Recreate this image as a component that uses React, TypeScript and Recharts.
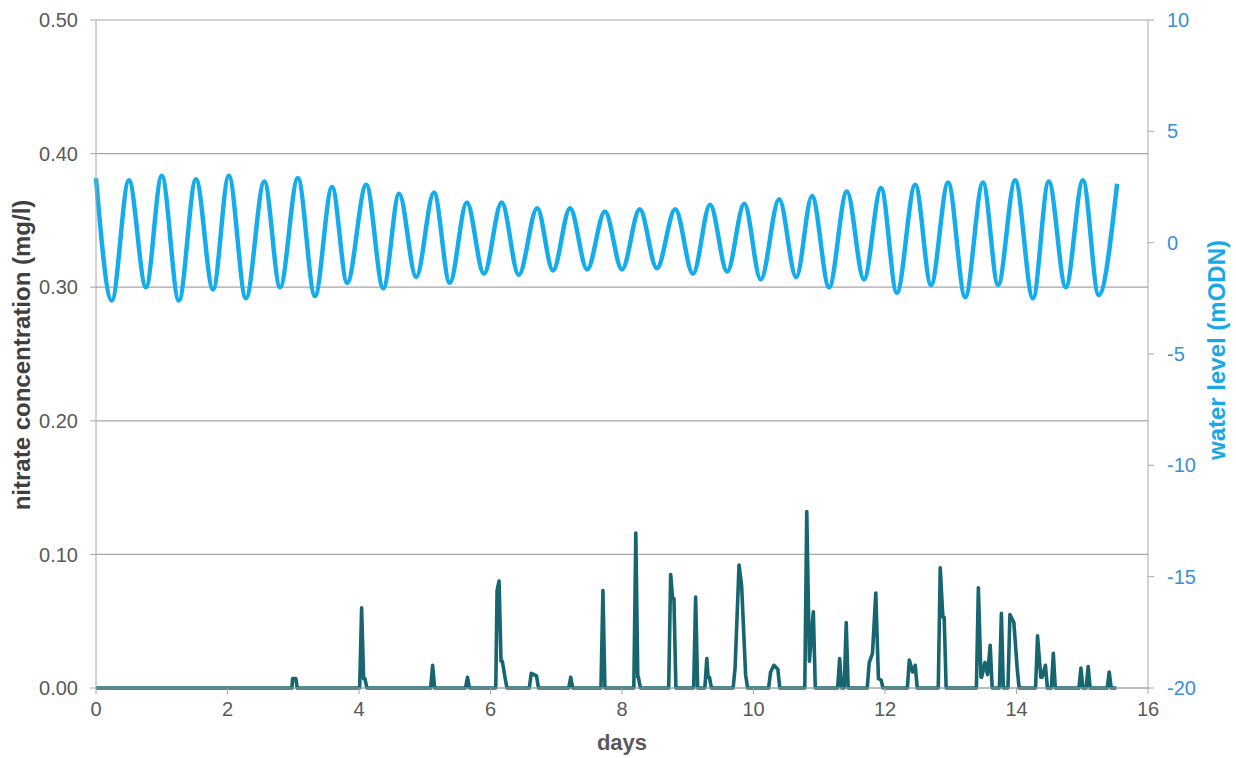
import React from 'react';
import { ComposedChart, Line, XAxis, YAxis, CartesianGrid } from 'recharts';

// water level (mODN): successive high / low water readings
const waterDays = [0.0, 0.24, 0.5, 0.76, 1.0, 1.26, 1.52, 1.78, 2.02, 2.28, 2.56, 2.8, 3.07, 3.33, 3.59, 3.82, 4.11, 4.37, 4.61, 4.87, 5.14, 5.38, 5.64, 5.9, 6.17, 6.43, 6.71, 6.95, 7.21, 7.47, 7.74, 8.0, 8.27, 8.53, 8.81, 9.08, 9.34, 9.6, 9.86, 10.11, 10.39, 10.65, 10.89, 11.15, 11.42, 11.68, 11.94, 12.18, 12.46, 12.7, 12.96, 13.22, 13.49, 13.72, 13.98, 14.25, 14.49, 14.75, 15.01, 15.25, 15.53];
const waterLevels = [2.9, -2.6, 2.8, -2.0, 3.0, -2.6, 2.85, -2.1, 3.0, -2.5, 2.75, -2.0, 2.9, -2.4, 2.5, -1.8, 2.6, -2.05, 2.2, -1.55, 2.25, -1.8, 1.8, -1.4, 1.8, -1.45, 1.55, -1.25, 1.55, -1.2, 1.4, -1.2, 1.5, -1.15, 1.5, -1.4, 1.7, -1.3, 1.75, -1.65, 1.95, -1.55, 2.1, -2.0, 2.3, -1.65, 2.45, -2.25, 2.6, -1.9, 2.7, -2.45, 2.7, -1.9, 2.8, -2.5, 2.75, -2.0, 2.8, -2.35, 2.65];

// nitrate concentration (mg/l)
const nitrateDays = [0, 2.98, 2.99, 3.04, 3.06, 4.01, 4.04, 4.07, 4.09, 4.12, 5.09, 5.12, 5.15, 5.62, 5.65, 5.68, 6.08, 6.1, 6.13, 6.16, 6.18, 6.22, 6.25, 6.59, 6.62, 6.66, 6.7, 6.73, 7.19, 7.22, 7.25, 7.68, 7.71, 7.74, 8.18, 8.21, 8.24, 8.25, 8.28, 8.71, 8.74, 8.77, 8.79, 8.82, 9.09, 9.12, 9.15, 9.26, 9.29, 9.31, 9.33, 9.36, 9.69, 9.72, 9.78, 9.82, 9.88, 9.91, 10.23, 10.26, 10.31, 10.37, 10.4, 10.78, 10.81, 10.85, 10.91, 10.94, 11.28, 11.31, 11.34, 11.38, 11.41, 11.44, 11.73, 11.76, 11.81, 11.86, 11.9, 11.94, 11.97, 12.34, 12.37, 12.42, 12.46, 12.49, 12.81, 12.84, 12.88, 12.9, 12.93, 13.39, 13.42, 13.46, 13.47, 13.52, 13.56, 13.6, 13.63, 13.74, 13.77, 13.8, 13.87, 13.9, 13.96, 14.01, 14.04, 14.29, 14.32, 14.37, 14.39, 14.44, 14.47, 14.53, 14.56, 14.59, 14.95, 14.98, 15.01, 15.06, 15.09, 15.12, 15.38, 15.41, 15.44, 15.52];
const nitrateValues = [0, 0, 0.007, 0.007, 0, 0, 0.06, 0.007, 0.007, 0, 0, 0.017, 0, 0, 0.008, 0, 0, 0.073, 0.08, 0.02, 0.02, 0.008, 0, 0, 0.011, 0.01, 0.009, 0, 0, 0.008, 0, 0, 0.073, 0, 0, 0.116, 0.008, 0.008, 0, 0, 0.085, 0.067, 0.067, 0, 0, 0.068, 0, 0, 0.022, 0.008, 0.008, 0, 0, 0.015, 0.092, 0.076, 0.01, 0, 0, 0.012, 0.017, 0.014, 0, 0, 0.132, 0.02, 0.057, 0, 0, 0.022, 0, 0, 0.049, 0, 0, 0.019, 0.026, 0.071, 0.007, 0.006, 0, 0, 0.021, 0.012, 0.017, 0, 0, 0.09, 0.053, 0.053, 0, 0, 0.075, 0.008, 0.008, 0.019, 0.01, 0.032, 0, 0, 0.056, 0, 0, 0.055, 0.049, 0.015, 0, 0, 0.039, 0.008, 0.008, 0.017, 0, 0, 0.026, 0, 0, 0.015, 0, 0, 0.016, 0, 0, 0.012, 0, 0];

const xTicks = [0, 2, 4, 6, 8, 10, 12, 14, 16];
const leftTicks = [0, 0.1, 0.2, 0.3, 0.4, 0.5];
const rightTicks = [-20, -15, -10, -5, 0, 5, 10];

const waterData = waterDays.map((d, i) => ({ day: d, level: waterLevels[i] }));
const nitrateData = nitrateDays.map((d, i) => ({ day: d, nitrate: nitrateValues[i] }));

const FONT = '"Liberation Sans", Arial, sans-serif';
const GRAY = '#595959';
const AXIS = '#a6a6a6';
const BLUE = '#14aceb';
const BLUE_TEXT = '#3a8fd8';
const TEAL = '#17656f';

export default function App() {
  return (
    <div style={{ position: 'absolute', left: 0, top: 0, width: 1236, height: 758, fontFamily: FONT, background: '#fff' }}>
      <ComposedChart width={1236} height={758} margin={{ top: 20, right: 0, left: 0, bottom: 0 }}>
        <CartesianGrid yAxisId="left" vertical={false} stroke={AXIS} strokeWidth={1.2} />
        <XAxis
          type="number"
          dataKey="day"
          domain={[0, 16]}
          ticks={xTicks}
          height={70}
          stroke={AXIS}
          tickSize={6}
          tickMargin={8}
          tick={{ fill: GRAY, fontSize: 20, fontFamily: FONT }}
        />
        <YAxis
          yAxisId="left"
          domain={[0, 0.5]}
          ticks={leftTicks}
          width={96}
          stroke={AXIS}
          tickSize={6}
          tickMargin={12}
          tickFormatter={(v: number) => v.toFixed(2)}
          tick={{ fill: GRAY, fontSize: 20, fontFamily: FONT }}
        />
        <YAxis
          yAxisId="right"
          orientation="right"
          domain={[-20, 10]}
          ticks={rightTicks}
          width={88}
          stroke={AXIS}
          tickSize={6}
          tickMargin={13}
          tick={{ fill: BLUE_TEXT, fontSize: 20, fontFamily: FONT, textAnchor: 'start' }}
        />
        <Line
          yAxisId="left"
          data={nitrateData}
          dataKey="nitrate"
          type="linear"
          stroke={TEAL}
          strokeWidth={3.6}
          dot={false}
          isAnimationActive={false}
          strokeLinejoin="round"
        />
        <Line
          yAxisId="right"
          data={waterData}
          dataKey="level"
          type="monotone"
          stroke={BLUE}
          strokeWidth={4.5}
          dot={false}
          isAnimationActive={false}
        />
      </ComposedChart>
      <div style={{ position: 'absolute', left: 22, top: 355, transform: 'translate(-50%, -50%) rotate(-90deg)', whiteSpace: 'nowrap', fontWeight: 'bold', fontSize: 24, color: '#404040' }}>
        nitrate concentration (mg/l)
      </div>
      <div style={{ position: 'absolute', left: 1217, top: 350, transform: 'translate(-50%, -50%) rotate(-90deg)', whiteSpace: 'nowrap', fontWeight: 'bold', fontSize: 24, color: '#1aa7e8' }}>
        water level (mODN)
      </div>
      <div style={{ position: 'absolute', left: 622, top: 743, transform: 'translate(-50%, -50%)', whiteSpace: 'nowrap', fontWeight: 'bold', fontSize: 22, color: GRAY }}>
        days
      </div>
    </div>
  );
}
